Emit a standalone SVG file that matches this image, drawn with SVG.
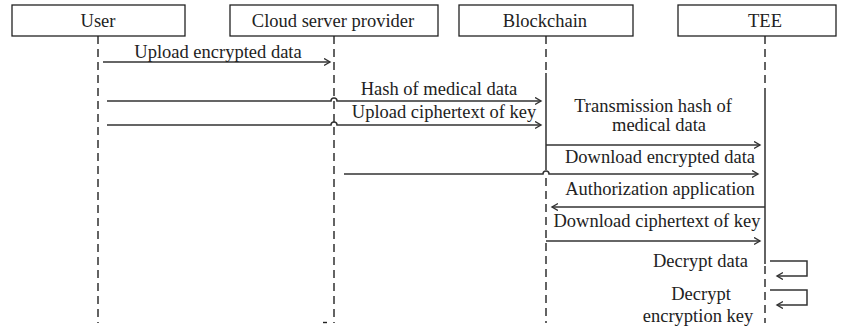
<svg xmlns="http://www.w3.org/2000/svg" width="841" height="330" viewBox="0 0 841 330">
  <style>
    .box { fill: #fff; stroke: #222; stroke-width: 1.3; }
    .life { stroke: #222; stroke-width: 1.4; stroke-dasharray: 8 5; fill: none; }
    .solid { stroke: #222; stroke-width: 1.4; fill: none; }
    .msg { stroke: #333; stroke-width: 1.5; fill: none; marker-end: url(#arrow); }
    text { font-family: "Liberation Serif", "Times New Roman", serif; font-size: 18.5px; fill: #222; }
    .c { text-anchor: middle; }
    .r { text-anchor: end; }
  </style>
  <defs>
    <marker id="arrow" markerUnits="userSpaceOnUse" markerWidth="10" markerHeight="10" refX="6" refY="4" orient="auto">
      <path d="M0,0.5 L6,4 L0,7.5" fill="none" stroke="#333" stroke-width="1.4"/>
    </marker>
  </defs>

  <!-- participants -->
  <g id="user">
    <rect class="box" x="12" y="5" width="173" height="31"/>
    <text class="c" x="98" y="27">User</text>
    <line class="life" x1="98" y1="36" x2="98" y2="323"/>
  </g>
  <g id="cloud">
    <rect class="box" x="230" y="5" width="208" height="31"/>
    <text class="c" x="333" y="27">Cloud server provider</text>
    <line class="life" x1="334" y1="36" x2="334" y2="323"/>
    <line class="solid" x1="323" y1="322.5" x2="327" y2="322.5"/>
  </g>
  <g id="blockchain">
    <rect class="box" x="459" y="5" width="174" height="31"/>
    <text class="c" x="545" y="27">Blockchain</text>
    <line class="life" x1="546" y1="36" x2="546" y2="73"/>
    <line class="solid" x1="546" y1="73" x2="546" y2="170"/>
    <line class="life" x1="546" y1="178" x2="546" y2="323"/>
  </g>
  <g id="tee">
    <rect class="box" x="678" y="5" width="158" height="31"/>
    <text class="c" x="765" y="27">TEE</text>
    <line class="life" x1="765" y1="36" x2="765" y2="90"/>
    <line class="solid" x1="765" y1="90" x2="765" y2="264"/>
    <line class="life" x1="765" y1="266" x2="765" y2="323"/>
  </g>

  <!-- messages -->
  <g id="connectors">
    <path class="msg" d="M103,62 H330"/>
    <path class="msg" d="M107,101 H331 a3,3 0 0 1 6,0 H541"/>
    <path class="msg" d="M107,125 H331 a3,3 0 0 1 6,0 H541"/>
    <path class="msg" d="M546,145 H760"/>
    <path class="msg" d="M344,174 H543 a3,3 0 0 1 6,0 H758"/>
    <path class="msg" d="M765,207 H552"/>
    <path class="msg" d="M546,241 H760"/>
    <path class="msg" d="M770,261 H807 V276 H777"/>
    <path class="msg" d="M770,290 H807 V305 H777"/>
  </g>

  <g id="labels">
    <text class="c" x="218" y="58">Upload encrypted data</text>
    <text class="c" x="439" y="95">Hash of medical data</text>
    <text class="c" x="444" y="118">Upload ciphertext of key</text>
    <text class="c" x="653" y="112">Transmission hash of</text>
    <text class="c" x="659" y="131">medical data</text>
    <text class="c" x="660" y="163">Download encrypted data</text>
    <text class="c" x="660" y="195">Authorization application</text>
    <text class="c" x="657" y="227">Download ciphertext of key</text>
    <text class="r" x="748" y="267">Decrypt data</text>
    <text class="c" x="701" y="300">Decrypt</text>
    <text class="c" x="698" y="322">encryption key</text>
  </g>
</svg>
